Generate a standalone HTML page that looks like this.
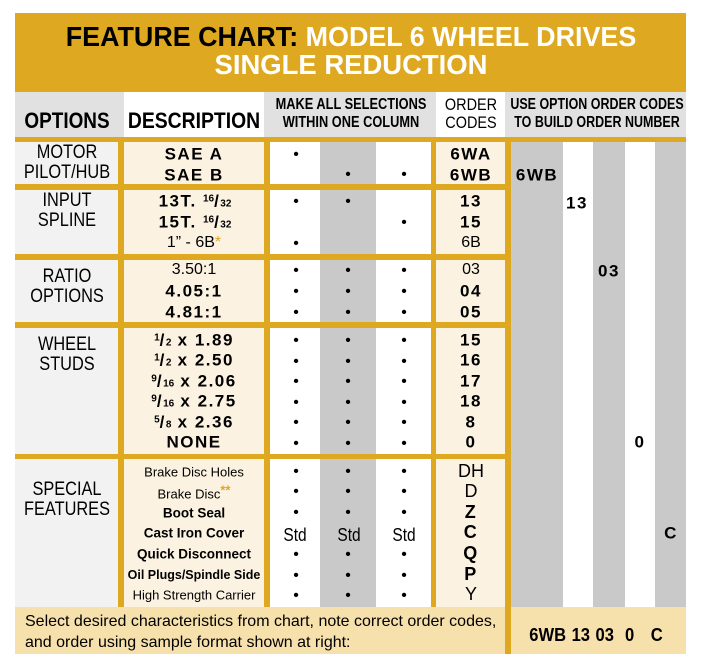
<!DOCTYPE html>
<html><head><meta charset="utf-8"><style>
*{margin:0;padding:0;box-sizing:border-box}
body{width:704px;height:672px;background:#fff;position:relative;overflow:hidden;font-family:"Liberation Sans",Arial,sans-serif;color:#000}
.r{position:absolute}
.t{position:absolute;transform:translate(-50%,-50%);white-space:nowrap;line-height:1}
.b{font-weight:bold;letter-spacing:1.5px}
.c{display:inline-block;transform:scaleX(.86)}
sup{font-size:10px;vertical-align:5px;letter-spacing:0}
sub{font-size:10px;vertical-align:0;letter-spacing:0}
.x{font-size:17px}
</style></head><body>
<div class="r" style="left:15px;top:13px;width:671px;height:641px;background:#DFA821"></div>
<div class="r" style="left:15px;top:92px;width:671px;height:45px;background:#e1e1e1"></div>
<div class="r" style="left:124px;top:92px;width:140px;height:45px;background:#fff"></div>
<div class="r" style="left:436px;top:92px;width:69px;height:45px;background:#fff"></div>

<div class="r" style="left:15px;top:142px;width:103px;height:42px;background:#f2f2f2"></div>
<div class="r" style="left:15px;top:190px;width:103px;height:64px;background:#f2f2f2"></div>
<div class="r" style="left:15px;top:260px;width:103px;height:62px;background:#f2f2f2"></div>
<div class="r" style="left:15px;top:328px;width:103px;height:126px;background:#f2f2f2"></div>
<div class="r" style="left:15px;top:459px;width:103px;height:148px;background:#f2f2f2"></div>
<div class="r" style="left:124px;top:142px;width:140px;height:42px;background:#fbf2e1"></div>
<div class="r" style="left:124px;top:190px;width:140px;height:64px;background:#fbf2e1"></div>
<div class="r" style="left:124px;top:260px;width:140px;height:62px;background:#fbf2e1"></div>
<div class="r" style="left:124px;top:328px;width:140px;height:126px;background:#fbf2e1"></div>
<div class="r" style="left:124px;top:459px;width:140px;height:148px;background:#fbf2e1"></div>
<div class="r" style="left:270px;top:142px;width:161px;height:42px;background:linear-gradient(90deg,#fff 0 50px,#c9c9c9 50px 106px,#fff 106px)"></div>
<div class="r" style="left:270px;top:190px;width:161px;height:64px;background:linear-gradient(90deg,#fff 0 50px,#c9c9c9 50px 106px,#fff 106px)"></div>
<div class="r" style="left:270px;top:260px;width:161px;height:62px;background:linear-gradient(90deg,#fff 0 50px,#c9c9c9 50px 106px,#fff 106px)"></div>
<div class="r" style="left:270px;top:328px;width:161px;height:126px;background:linear-gradient(90deg,#fff 0 50px,#c9c9c9 50px 106px,#fff 106px)"></div>
<div class="r" style="left:270px;top:459px;width:161px;height:148px;background:linear-gradient(90deg,#fff 0 50px,#c9c9c9 50px 106px,#fff 106px)"></div>
<div class="r" style="left:436px;top:142px;width:69px;height:42px;background:#fbf2e1"></div>
<div class="r" style="left:436px;top:190px;width:69px;height:64px;background:#fbf2e1"></div>
<div class="r" style="left:436px;top:260px;width:69px;height:62px;background:#fbf2e1"></div>
<div class="r" style="left:436px;top:328px;width:69px;height:126px;background:#fbf2e1"></div>
<div class="r" style="left:436px;top:459px;width:69px;height:148px;background:#fbf2e1"></div>
<div class="r" style="left:511px;top:142px;width:175px;height:465px;background:linear-gradient(90deg,#c9c9c9 0 52px,#fff 52px 82px,#c9c9c9 82px 114px,#fff 114px 144px,#c9c9c9 144px)"></div>
<div class="r" style="left:15px;top:607px;width:490px;height:47px;background:#f6e0ac"></div>
<div class="r" style="left:511px;top:607px;width:175px;height:47px;background:#f6e0ac"></div>

<div class="t" style="left:351px;top:37px;font-size:28px;font-weight:bold"><span class="c" style="transform:scaleX(.96)">FEATURE CHART: <span style="color:#fff">MODEL 6 WHEEL DRIVES</span></span></div>
<div class="t" style="left:351px;top:65px;font-size:28px;font-weight:bold;color:#fff"><span class="c" style="transform:scaleX(.98)">SINGLE REDUCTION</span></div>

<div class="t" style="left:67px;top:121px;font-size:22px;font-weight:bold"><span class="c">OPTIONS</span></div>
<div class="t" style="left:194px;top:121px;font-size:22px;font-weight:bold"><span class="c" style="transform:scaleX(.88)">DESCRIPTION</span></div>
<div class="t" style="left:351px;top:114px;font-size:16px;font-weight:bold;text-align:center;line-height:18px"><span class="c" style="transform:scaleX(.8)">MAKE ALL SELECTIONS<br>WITHIN ONE COLUMN</span></div>
<div class="t" style="left:471px;top:114px;font-size:17px;text-align:center;line-height:18px"><span class="c" style="transform:scaleX(.85)">ORDER<br>CODES</span></div>
<div class="t" style="left:597px;top:114px;font-size:16px;font-weight:bold;text-align:center;line-height:18px"><span class="c" style="transform:scaleX(.78)">USE OPTION ORDER CODES<br>TO BUILD ORDER NUMBER</span></div>

<div class="t" style="left:67px;top:163px;font-size:19px;text-align:center;line-height:20px"><span class="c">MOTOR<br>PILOT/HUB</span></div>
<div class="t" style="left:67px;top:211px;font-size:19px;text-align:center;line-height:20px"><span class="c">INPUT<br>SPLINE</span></div>
<div class="t" style="left:67px;top:287px;font-size:19px;text-align:center;line-height:20px"><span class="c">RATIO<br>OPTIONS</span></div>
<div class="t" style="left:67px;top:355px;font-size:19px;text-align:center;line-height:20px"><span class="c">WHEEL<br>STUDS</span></div>
<div class="t" style="left:67px;top:500px;font-size:19px;text-align:center;line-height:20px"><span class="c">SPECIAL<br>FEATURES</span></div>

<div class="t b x" style="left:194px;top:154px">SAE A</div>
<div class="t b x" style="left:194px;top:175px">SAE B</div>
<div class="t b x" style="left:195px;top:201px">13T. <sup>16</sup>/<sub>32</sub></div>
<div class="t b x" style="left:195px;top:222px">15T. <sup>16</sup>/<sub>32</sub></div>
<div class="t" style="left:194px;top:243px;font-size:16px">1” - 6B<span style="color:#DFA821">*</span></div>
<div class="t" style="left:194px;top:270px;font-size:16px">3.50:1</div>
<div class="t b x" style="left:194px;top:291px">4.05:1</div>
<div class="t b x" style="left:194px;top:312px">4.81:1</div>
<div class="t b x" style="left:194px;top:340px"><sup>1</sup>/<sub>2</sub> x 1.89</div>
<div class="t b x" style="left:194px;top:360px"><sup>1</sup>/<sub>2</sub> x 2.50</div>
<div class="t b x" style="left:194px;top:381px"><sup>9</sup>/<sub>16</sub> x 2.06</div>
<div class="t b x" style="left:194px;top:401px"><sup>9</sup>/<sub>16</sub> x 2.75</div>
<div class="t b x" style="left:194px;top:422px"><sup>5</sup>/<sub>8</sub> x 2.36</div>
<div class="t b x" style="left:194px;top:442px">NONE</div>
<div class="t" style="left:194px;top:472px;font-size:13px">Brake Disc Holes</div>
<div class="t" style="left:194px;top:492px;font-size:13px">Brake Disc<span style="color:#DFA821;font-weight:bold;vertical-align:4px">**</span></div>
<div class="t" style="left:194px;top:513px;font-size:13.5px;font-weight:bold">Boot Seal</div>
<div class="t" style="left:194px;top:533px;font-size:13.5px;font-weight:bold">Cast Iron Cover</div>
<div class="t" style="left:194px;top:554px;font-size:13.5px;font-weight:bold">Quick Disconnect</div>
<div class="t" style="left:194px;top:575px;font-size:12.5px;font-weight:bold">Oil Plugs/Spindle Side</div>
<div class="t" style="left:194px;top:595px;font-size:13px">High Strength Carrier</div>

<div class="t" style="left:296px;top:155px;font-size:16px">•</div>
<div class="t" style="left:348px;top:175px;font-size:16px">•</div>
<div class="t" style="left:404px;top:175px;font-size:16px">•</div>
<div class="t" style="left:296px;top:202px;font-size:16px">•</div>
<div class="t" style="left:348px;top:202px;font-size:16px">•</div>
<div class="t" style="left:404px;top:223px;font-size:16px">•</div>
<div class="t" style="left:296px;top:244px;font-size:16px">•</div>
<div class="t" style="left:296px;top:271px;font-size:16px">•</div><div class="t" style="left:348px;top:271px;font-size:16px">•</div><div class="t" style="left:404px;top:271px;font-size:16px">•</div>
<div class="t" style="left:296px;top:292px;font-size:16px">•</div><div class="t" style="left:348px;top:292px;font-size:16px">•</div><div class="t" style="left:404px;top:292px;font-size:16px">•</div>
<div class="t" style="left:296px;top:313px;font-size:16px">•</div><div class="t" style="left:348px;top:313px;font-size:16px">•</div><div class="t" style="left:404px;top:313px;font-size:16px">•</div>
<div class="t" style="left:296px;top:341px;font-size:16px">•</div><div class="t" style="left:348px;top:341px;font-size:16px">•</div><div class="t" style="left:404px;top:341px;font-size:16px">•</div>
<div class="t" style="left:296px;top:362px;font-size:16px">•</div><div class="t" style="left:348px;top:362px;font-size:16px">•</div><div class="t" style="left:404px;top:362px;font-size:16px">•</div>
<div class="t" style="left:296px;top:382px;font-size:16px">•</div><div class="t" style="left:348px;top:382px;font-size:16px">•</div><div class="t" style="left:404px;top:382px;font-size:16px">•</div>
<div class="t" style="left:296px;top:403px;font-size:16px">•</div><div class="t" style="left:348px;top:403px;font-size:16px">•</div><div class="t" style="left:404px;top:403px;font-size:16px">•</div>
<div class="t" style="left:296px;top:423px;font-size:16px">•</div><div class="t" style="left:348px;top:423px;font-size:16px">•</div><div class="t" style="left:404px;top:423px;font-size:16px">•</div>
<div class="t" style="left:296px;top:444px;font-size:16px">•</div><div class="t" style="left:348px;top:444px;font-size:16px">•</div><div class="t" style="left:404px;top:444px;font-size:16px">•</div>
<div class="t" style="left:296px;top:472px;font-size:16px">•</div><div class="t" style="left:348px;top:472px;font-size:16px">•</div><div class="t" style="left:404px;top:472px;font-size:16px">•</div>
<div class="t" style="left:296px;top:492px;font-size:16px">•</div><div class="t" style="left:348px;top:492px;font-size:16px">•</div><div class="t" style="left:404px;top:492px;font-size:16px">•</div>
<div class="t" style="left:296px;top:513px;font-size:16px">•</div><div class="t" style="left:348px;top:513px;font-size:16px">•</div><div class="t" style="left:404px;top:513px;font-size:16px">•</div>
<div class="t" style="left:295px;top:535px;font-size:18px"><span class="c">Std</span></div><div class="t" style="left:349px;top:535px;font-size:18px"><span class="c">Std</span></div><div class="t" style="left:404px;top:535px;font-size:18px"><span class="c">Std</span></div>
<div class="t" style="left:296px;top:555px;font-size:16px">•</div><div class="t" style="left:348px;top:555px;font-size:16px">•</div><div class="t" style="left:404px;top:555px;font-size:16px">•</div>
<div class="t" style="left:296px;top:576px;font-size:16px">•</div><div class="t" style="left:348px;top:576px;font-size:16px">•</div><div class="t" style="left:404px;top:576px;font-size:16px">•</div>
<div class="t" style="left:296px;top:596px;font-size:16px">•</div><div class="t" style="left:348px;top:596px;font-size:16px">•</div><div class="t" style="left:404px;top:596px;font-size:16px">•</div>

<div class="t b x" style="left:471px;top:154px">6WA</div>
<div class="t b x" style="left:471px;top:175px">6WB</div>
<div class="t b x" style="left:471px;top:201px">13</div>
<div class="t b x" style="left:471px;top:222px">15</div>
<div class="t" style="left:471px;top:243px;font-size:16px">6B</div>
<div class="t" style="left:471px;top:270px;font-size:16px">03</div>
<div class="t b x" style="left:471px;top:291px">04</div>
<div class="t b x" style="left:471px;top:312px">05</div>
<div class="t b x" style="left:471px;top:340px">15</div>
<div class="t b x" style="left:471px;top:360px">16</div>
<div class="t b x" style="left:471px;top:381px">17</div>
<div class="t b x" style="left:471px;top:401px">18</div>
<div class="t b x" style="left:471px;top:422px">8</div>
<div class="t b x" style="left:471px;top:442px">0</div>
<div class="t" style="left:471px;top:471px;font-size:18px">DH</div>
<div class="t" style="left:471px;top:491px;font-size:18px">D</div>
<div class="t b" style="left:471px;top:512px;font-size:18px">Z</div>
<div class="t b" style="left:471px;top:532px;font-size:18px">C</div>
<div class="t b" style="left:471px;top:553px;font-size:18px">Q</div>
<div class="t b" style="left:471px;top:574px;font-size:18px">P</div>
<div class="t" style="left:471px;top:594px;font-size:18px">Y</div>

<div class="t b x" style="left:537px;top:175px">6WB</div>
<div class="t b x" style="left:577px;top:203px">13</div>
<div class="t b x" style="left:609px;top:271px">03</div>
<div class="t b x" style="left:640px;top:442px">0</div>
<div class="t b x" style="left:671px;top:533px">C</div>

<div class="r" style="left:25px;top:611px;font-size:16px;line-height:21px;white-space:nowrap"><span style="display:inline-block;transform:scaleX(1);transform-origin:left">Select desired characteristics from chart, note correct order codes,<br>and order using sample format shown at right:</span></div>
<div class="t" style="left:596px;top:635px;font-size:18px;font-weight:bold;word-spacing:1px"><span class="c" style="transform:scaleX(.92)">6WB 13 03 &nbsp;0 &nbsp; C</span></div>
</body></html>
